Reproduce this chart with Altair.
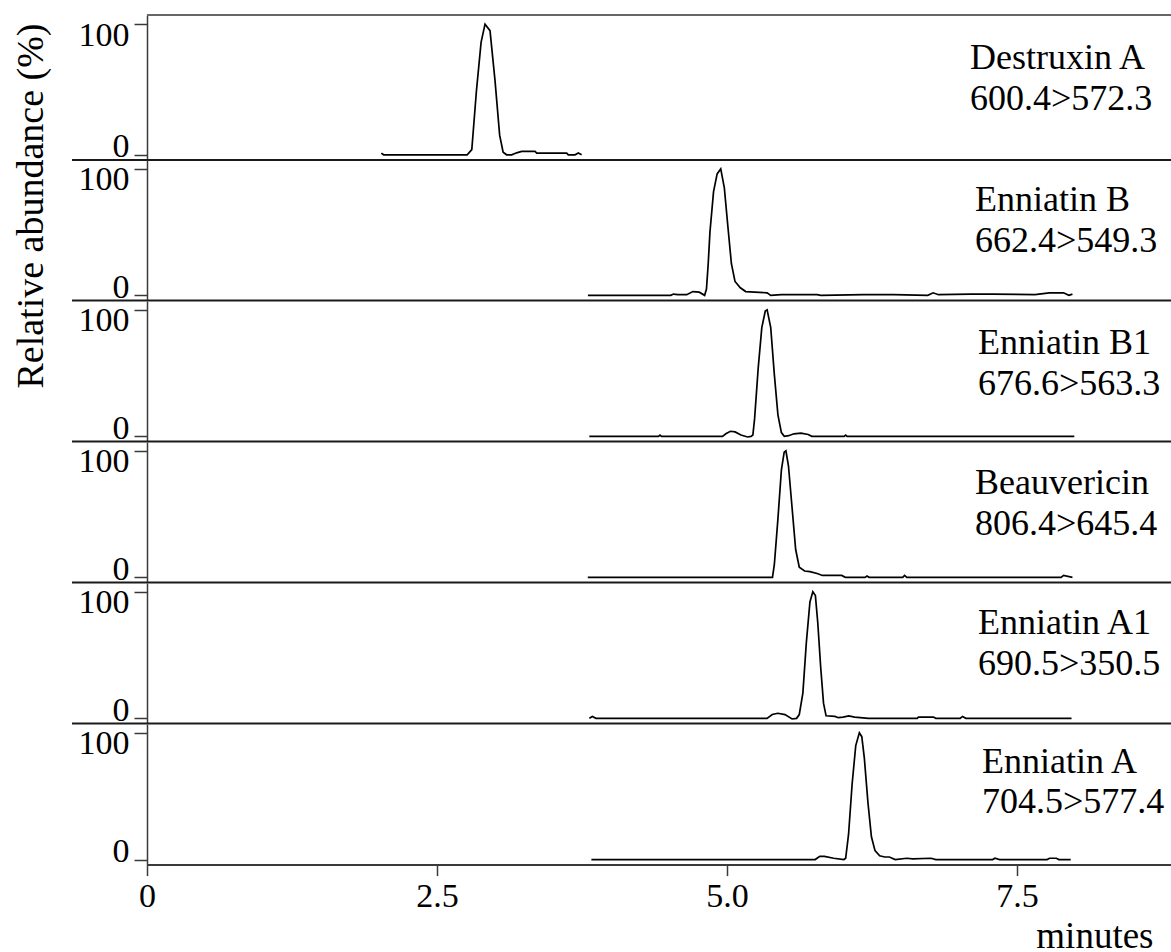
import altair as alt
import pandas as pd

# ---------------- data ----------------
compounds = ["Destruxin A", "Enniatin B", "Enniatin B1", "Beauvericin", "Enniatin A1", "Enniatin A"]
transitions = ["600.4>572.3", "662.4>549.3", "676.6>563.3", "806.4>645.4", "690.5>350.5", "704.5>577.4"]
x_ticks = [0, 2.5, 5.0, 7.5]
y_ticks = [0, 100]
x_title = "minutes"
y_title = "Relative abundance (%)"

destruxin_a_t = [2.02, 2.04, 2.76, 2.80, 2.84, 2.88, 2.914, 2.957, 3.00, 3.04, 3.07, 3.10, 3.144,
                 3.187, 3.23, 3.345, 3.36, 3.618, 3.632, 3.69, 3.718, 3.747]
destruxin_a_v = [1.3, 0, 0, 4, 49, 86, 100, 95, 57, 15, 2, 0, 0,
                 1.5, 2.6, 2.6, 1.3, 1.3, 0, 0, 1.3, 0]

enniatin_b_t = [3.801, 4.515, 4.539, 4.576, 4.653, 4.706, 4.761, 4.807, 4.823, 4.838, 4.853, 4.884,
                4.915, 4.946, 4.977, 5.007, 5.038, 5.069, 5.115, 5.161, 5.346, 5.377, 5.469, 5.777,
                5.808, 6.177, 6.438, 6.731, 6.777, 6.823, 7.100, 7.286, 7.655, 7.778, 7.901, 7.947, 7.978]
enniatin_b_v = [0, 0, 1, 0.5, 0.5, 3, 2.5, 0, 5, 25, 50, 82,
                96, 100, 85, 55, 25, 11, 6, 3, 2, 0, 0.5, 0.5,
                0, 0.5, 0.5, 0, 2, 0.5, 1, 1, 0.5, 2, 2, 0, 1]

enniatin_b1_t = [3.813, 4.41, 4.422, 4.435, 4.961, 4.99, 5.03, 5.07, 5.12, 5.177, 5.207, 5.223, 5.238,
                 5.269, 5.300, 5.330, 5.346, 5.377, 5.408, 5.439, 5.469, 5.494, 5.531, 5.577, 5.638,
                 5.700, 5.731, 6.01, 6.023, 6.035, 7.994]
enniatin_b1_v = [0, 0, 1, 0, 0, 2, 4, 3.5, 1, -0.5, 0, 1, 14,
                 54, 86, 99, 100, 86, 49, 17, 3, 0, 0.5, 2, 2.5,
                 1.5, 0, 0, 1, 0, 0]

beauvericin_t = [3.80, 5.392, 5.408, 5.438, 5.469, 5.493, 5.508, 5.530, 5.561, 5.592, 5.623, 5.669,
                 5.715, 5.777, 5.822, 5.989, 6.02, 6.19, 6.207, 6.225, 6.515, 6.531, 6.55, 7.88,
                 7.901, 7.978]
beauvericin_v = [0, 0, 10, 45, 85, 99, 100, 88, 55, 22, 8, 5,
                 4.5, 3, 1.5, 1.5, 0, 0, 1, 0, 0, 1.5, 0, 0,
                 1.5, 0]

enniatin_a1_t = [3.813, 3.84, 3.87, 5.345, 5.39, 5.438, 5.50, 5.561, 5.60, 5.623, 5.654, 5.684, 5.715,
                 5.740, 5.762, 5.783, 5.808, 5.832, 5.854, 5.93, 5.96, 6.00, 6.05, 6.10, 6.22, 6.64,
                 6.65, 6.78, 6.80, 7.01, 7.03, 7.06, 7.97]
enniatin_a1_v = [0, 1.5, 0, 0, 3, 4, 3, -0.5, 0, 3, 20, 60, 92,
                 100, 97, 75, 40, 12, 2, 1.5, 0.5, 1, 2, 1, 0, 0,
                 1, 1, 0, 0, 1.5, 0, 0]

enniatin_a_t = [3.831, 5.76, 5.80, 5.84, 5.92, 6.008, 6.023, 6.048, 6.079, 6.110, 6.141, 6.162, 6.184,
                6.215, 6.245, 6.276, 6.316, 6.36, 6.40, 6.45, 6.55, 6.60, 6.76, 6.80, 7.29, 7.31,
                7.35, 7.76, 7.78, 7.84, 7.86, 7.963]
enniatin_a_v = [0, 0, 2.5, 2.5, 1, 0, 1, 20, 60, 90, 100, 97, 80,
                45, 18, 7, 3, 2, 2, 0, 1, 0.5, 1, 0, 0, 1,
                0, 0, 1, 1, 0, 0]

traces = [
    (destruxin_a_t, destruxin_a_v),
    (enniatin_b_t, enniatin_b_v),
    (enniatin_b1_t, enniatin_b1_v),
    (beauvericin_t, beauvericin_v),
    (enniatin_a1_t, enniatin_a1_v),
    (enniatin_a_t, enniatin_a_v),
]

# ---------------- layout / style ----------------
FONT = "Liberation Serif"
W = 1024
X_MAX = 1024 / 116.0
heights = [145, 140.4, 140.4, 140.4, 140.4, 140.6]
label_x = [823, 828, 831, 828, 831, 835]
label_y1 = [54, 51, 53, 52, 51, 49]
label_y2 = [95, 92, 94, 93, 92, 89]
AXIS_COLOR = "#3a3a3a"


def panel(i):
    t, v = traces[i]
    df = pd.DataFrame({"t": t, "v": v})
    first = i == 0
    last = i == len(traces) - 1
    h = heights[i]

    if last:
        x_axis = alt.Axis(
            values=x_ticks,
            labelExpr="datum.value == 0 ? '0' : format(datum.value, '.1f')",
            labelFlush=False,
            labelFont=FONT, labelFontSize=34, labelColor="black", labelPadding=4,
            tickSize=11, tickColor=AXIS_COLOR, tickWidth=1.5,
            domainColor=AXIS_COLOR, domainWidth=2,
            grid=False,
            title=x_title, titleFont=FONT, titleFontSize=37, titleFontWeight="normal",
            titleColor="black", titleAlign="right", titleBaseline="alphabetic",
            titleX=1006, titleY=83,
        )
    else:
        x_axis = None

    y_axis_kw = dict(
        values=y_ticks,
        labelFont=FONT, labelFontSize=34, labelColor="black", labelPadding=5,
        labelBaseline="alphabetic",
        labelOffset={"condition": {"test": "datum.value > 50", "value": 21}, "value": 2},
        tickSize=13, tickColor=AXIS_COLOR, tickWidth=1.5,
        domainColor=AXIS_COLOR, domainWidth=1.5,
        grid=False,
    )
    if first:
        y_axis = alt.Axis(
            title=y_title, titleFont=FONT, titleFontSize=38, titleFontWeight="normal",
            titleColor="black", titleAngle=270, titleAlign="right",
            titleBaseline="alphabetic", titleX=-105, titleY=8, **y_axis_kw,
        )
    else:
        y_axis = alt.Axis(title=None, **y_axis_kw)

    line = alt.Chart(df).mark_line(color="black", strokeWidth=1.7).encode(
        x=alt.X("t:Q", scale=alt.Scale(domain=[0, X_MAX], nice=False, zero=False), axis=x_axis),
        y=alt.Y("v:Q", scale=alt.Scale(domain=[-4, 107], nice=False, zero=False), axis=y_axis),
    )

    lab = pd.DataFrame({"name": [compounds[i]], "tr": [transitions[i]]})
    t1 = alt.Chart(lab).mark_text(
        align="left", baseline="alphabetic", font=FONT, fontSize=36, color="black"
    ).encode(x=alt.value(label_x[i]), y=alt.value(label_y1[i]), text="name:N")
    t2 = alt.Chart(lab).mark_text(
        align="left", baseline="alphabetic", font=FONT, fontSize=36, color="black"
    ).encode(x=alt.value(label_x[i]), y=alt.value(label_y2[i]), text="tr:N")

    layers = [line, t1, t2]
    if not last:
        sep = alt.Chart(lab).mark_rule(color="#1a1a1a", strokeWidth=2).encode(
            x=alt.value(-75), x2=alt.value(W), y=alt.value(h)
        )
        layers.append(sep)
    if first:
        top = alt.Chart(lab).mark_rule(color="#666666", strokeWidth=2).encode(
            x=alt.value(0), x2=alt.value(W), y=alt.value(0)
        )
        layers.append(top)
    return alt.layer(*layers).properties(width=W, height=h)


chart = alt.vconcat(*[panel(i) for i in range(len(traces))], spacing=0, bounds="flush").properties(
    padding={"left": 12, "top": 14, "right": -1, "bottom": 2},
    background="white",
).configure_view(stroke=None)

chart.save("out.html", embed_options={"renderer": "svg", "actions": False})
